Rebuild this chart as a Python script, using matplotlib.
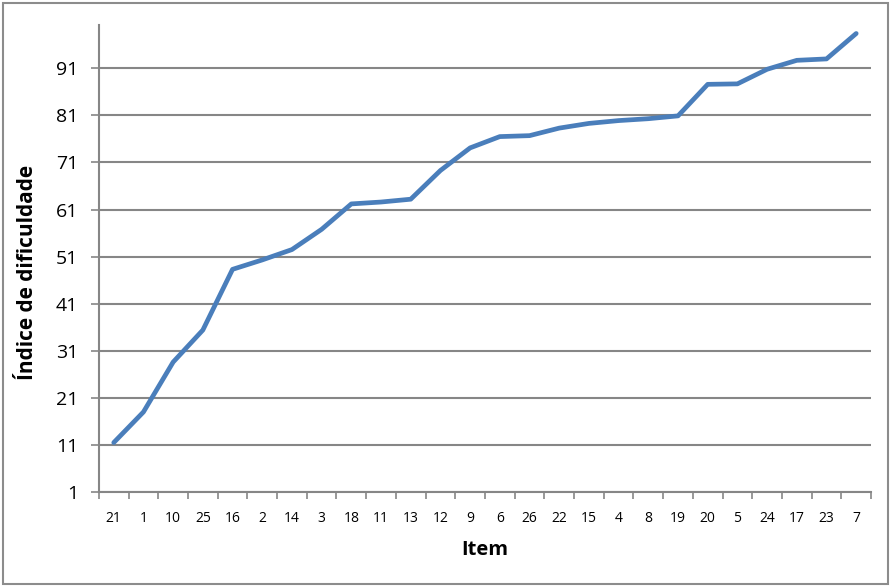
import numpy as np
import matplotlib
matplotlib.use("Agg")
import matplotlib.pyplot as plt
from matplotlib.patches import Rectangle

plt.rcParams['font.family'] = ['Open Sans', 'DejaVu Sans']

items = ['21', '1', '10', '25', '16', '2', '14', '3', '18', '11', '13', '12', '9',
         '6', '26', '22', '15', '4', '8', '19', '20', '5', '24', '17', '23', '7']
dificuldade = [11.5, 18.0, 28.6, 35.4, 48.3, 50.3, 52.5, 56.8, 62.2, 62.6, 63.2, 69.3, 74.1,
               76.5, 76.7, 78.3, 79.3, 79.9, 80.3, 80.9, 87.6, 87.7, 90.8, 92.7, 93.0, 98.4]
yticks = [1, 11, 21, 31, 41, 51, 61, 71, 81, 91]

grey = '#868686'

fig = plt.figure(figsize=(8.91, 5.86), dpi=100)
ax = fig.add_axes([0.111, 0.1604, 0.8666, 0.7969])

x = np.arange(len(items))
ax.plot(x, dificuldade, color='#4a7ebb', linewidth=3.4, solid_joinstyle='round',
        solid_capstyle='round', zorder=3)

ax.set_xlim(-0.5, len(items) - 0.5)
ax.set_ylim(1, 100.2)
ax.set_yticks(yticks)
ax.set_yticklabels([str(t) for t in yticks], fontsize=14)
ax.set_xticks(x)
ax.set_xticklabels(items, fontsize=10)
ax.set_xticks(np.arange(len(items) + 1) - 0.5, minor=True)
ax.tick_params(axis='x', which='major', length=0, pad=14)
ax.tick_params(axis='x', which='minor', length=5, color=grey, width=1.2)
ax.tick_params(axis='y', length=6, color=grey, width=1.2, pad=9)

ax.grid(axis='y', color=grey, linewidth=1.5)
ax.set_axisbelow(True)
for s in ['top', 'right']:
    ax.spines[s].set_visible(False)
for s in ['left', 'bottom']:
    ax.spines[s].set_color(grey)
    ax.spines[s].set_linewidth(1.5)

ax.set_xlabel('Item', fontsize=14.5, fontweight='bold', labelpad=10)
ax.set_ylabel('Índice de dificuldade', fontsize=15, fontweight='bold', labelpad=13)
ax.yaxis.label.set_y(0.47)

fig.patches.append(Rectangle((0.003, 0.004), 0.994, 0.991, transform=fig.transFigure,
                             fill=False, edgecolor='#8c8c8c', linewidth=1.5))

fig.savefig('out.png', dpi=100)
